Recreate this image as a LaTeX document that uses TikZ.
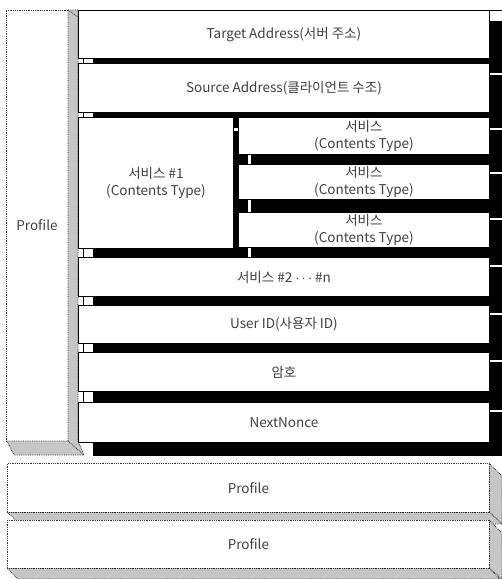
\documentclass[tikz,border=0pt]{standalone}
\usepackage{fontspec}
\setmainfont{Noto Sans CJK KR}
\begin{document}
\begin{tikzpicture}[x=1pt,y=-1pt,
  box/.style={draw=black, line width=0.9pt, fill=white, inner sep=0pt, anchor=north west,
    align=center, font=\fontsize{13.5}{17}\selectfont, text=black!75},
  edgemark/.style={draw=black, line width=0.5pt, fill=white},
  dotline/.style={draw=black!80, densely dotted, line width=0.8pt},
  grayface/.style={fill=gray!45, draw=black!80, densely dotted, line width=0.8pt},
  probox/.style={draw=black!80, densely dotted, line width=0.8pt, fill=white, inner sep=0pt,
    anchor=north west, font=\fontsize{13.5}{17}\selectfont, text=black!75},
  lbl/.style={font=\fontsize{13.5}{17}\selectfont, text=black!75}]
\useasboundingbox (0,0) rectangle (502,579);

% ---- outer Profile tray ----
\fill[white] (6,10) rectangle (68,441);
\draw[dotline] (68,10) -- (6,10) -- (6,441) -- (68,441);
\path[grayface] (68,10) -- (78,10) -- (78,441) -- (84,455) -- (14,455) -- (7,441) -- (68,441) -- cycle;
\draw[dotline] (68,10) -- (78,17);
\draw[dotline] (68,441) -- (84,455);
\node[lbl] (prof) at (37,225) {Profile};

% ---- black depth of the entries ----
\fill[black] (93,10) rectangle (502,456);

% ---- entries ----
\node[box, minimum width=411pt, minimum height=48pt] (tgt) at (78,10) {Target Address(서버 주소)};
\node[box, minimum width=411pt, minimum height=49pt] (src) at (78,63) {Source Address(클라이언트 수조)};
\node[box, minimum width=155pt, minimum height=131pt] (svc1) at (78,117) {서비스 \#1\\(Contents Type)};
\node[box, minimum width=251pt, minimum height=37pt] (sub1) at (238,117) {서비스\\(Contents Type)};
\node[box, minimum width=251pt, minimum height=35pt] (sub2) at (238,164) {서비스\\(Contents Type)};
\node[box, minimum width=251pt, minimum height=35pt] (sub3) at (238,212) {서비스\\(Contents Type)};
\node[box, minimum width=411pt, minimum height=39pt] (svc2) at (78,257) {서비스 \#2 $\cdots$ \#n};
\node[box, minimum width=411pt, minimum height=38pt] (uid) at (78,305) {User ID(사용자 ID)};
\node[box, minimum width=411pt, minimum height=39pt] (pw) at (78,352) {암호};
\node[box, minimum width=411pt, minimum height=40pt] (nn) at (78,402) {NextNonce};

% ---- small white edge marks ----
\foreach \ya/\yb in {58/63, 112/117, 248/257, 296/305, 343/352, 391/402}
  \draw[edgemark] (83,\ya) rectangle (93,\yb);
\foreach \ya/\yb in {154/164, 199/212, 247/257}
  \draw[edgemark] (247,\ya) rectangle (251,\yb);
\draw[edgemark] (233,127) rectangle (238,131);
\draw[edgemark] (489,10) rectangle (502,21);
\foreach \ya in {72, 127, 171, 217, 264, 312, 359, 409}
  \draw[edgemark] (489,\ya) rectangle (502,\ya+3.5);

% ---- lower Profile boxes ----
\path[grayface] (489,463) -- (502,476) -- (502,524) -- (489,512) -- cycle;
\path[grayface] (7,512) -- (489,512) -- (502,524) -- (20,524) -- cycle;
\node[probox, minimum width=482pt, minimum height=49pt] (p1) at (7,463) {Profile};
\path[grayface] (489,520) -- (502,533) -- (502,579) -- (489,568) -- cycle;
\path[grayface] (7,568) -- (489,568) -- (500,579) -- (18,579) -- cycle;
\node[probox, minimum width=482pt, minimum height=48pt] (p2) at (7,520) {Profile};
\end{tikzpicture}
\end{document}
